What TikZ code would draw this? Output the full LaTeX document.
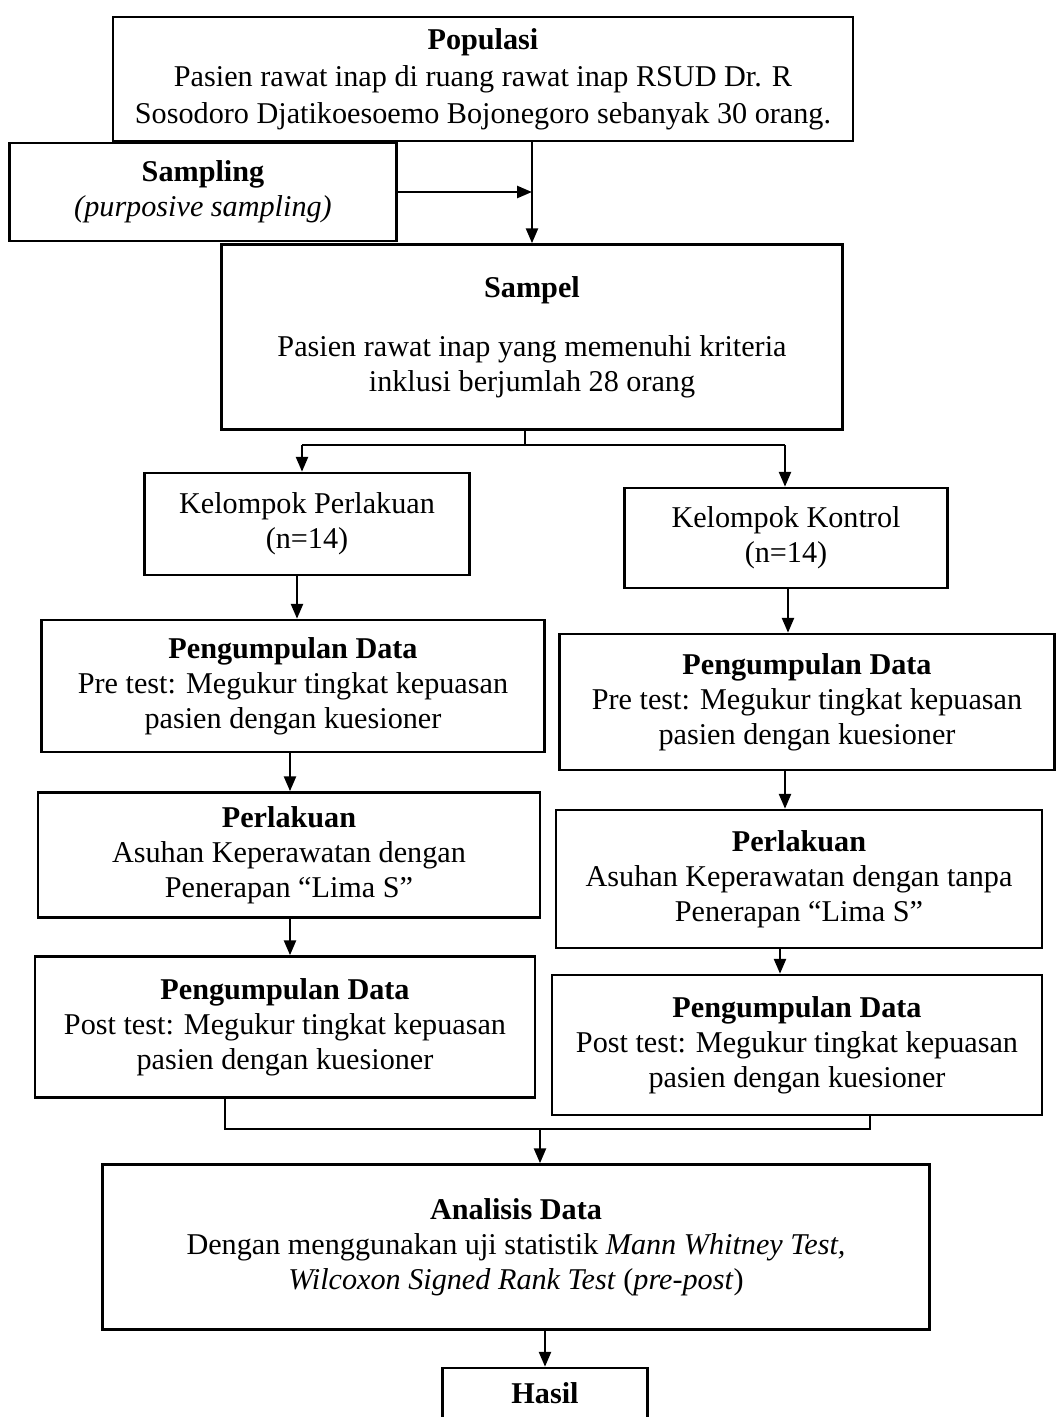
\documentclass[tikz,border=0pt]{standalone}
\usepackage{fontspec}
\setmainfont{Liberation Serif}
\usetikzlibrary{arrows.meta}
\begin{document}
\begin{tikzpicture}[x=1pt,y=-1pt,
  box/.style={draw, line width=2.5pt, align=center, inner sep=0pt,
    font=\fontsize{30.2}{35}\selectfont},
  conn/.style={line width=2.5pt},
  arr/.style={conn, -{Triangle[length=15pt,width=12pt]}}]
\useasboundingbox[fill=white] (0,0) rectangle (1058,1417);
\clip (0,0) rectangle (1058,1417);
\node[box, minimum width=740, minimum height=124, font=\fontsize{30.2}{37}\selectfont] (popu) at (483,79)
  {\textbf{Populasi}\\Pasien rawat inap di ruang rawat inap RSUD Dr. R\\Sosodoro Djatikoesoemo Bojonegoro sebanyak 30 orang.};
\node[box, minimum width=387, minimum height=98] (samp) at (203,192)
  {\textbf{Sampling}\\\textit{(purposive sampling)}};
\node[box, minimum width=621, minimum height=185] (sampel) at (532,337)
  {\textbf{Sampel}\\[24pt]Pasien rawat inap yang memenuhi kriteria\\inklusi berjumlah 28 orang};
\node[box, minimum width=325, minimum height=102] (kp) at (307,524)
  {Kelompok Perlakuan\\(n=14)};
\node[box, minimum width=323, minimum height=100] (kk) at (786,538)
  {Kelompok Kontrol\\(n=14)};
\node[box, minimum width=503, minimum height=132] (pdl) at (293,686)
  {\textbf{Pengumpulan Data}\\Pre test: Megukur tingkat kepuasan\\pasien dengan kuesioner};
\node[box, minimum width=495, minimum height=136] (pdr) at (807,702)
  {\textbf{Pengumpulan Data}\\Pre test: Megukur tingkat kepuasan\\pasien dengan kuesioner};
\node[box, minimum width=502, minimum height=125] (perll) at (289,855)
  {\textbf{Perlakuan}\\Asuhan Keperawatan dengan\\Penerapan “Lima S”};
\node[box, minimum width=486, minimum height=138] (perlr) at (799,879)
  {\textbf{Perlakuan}\\Asuhan Keperawatan dengan tanpa\\Penerapan “Lima S”};
\node[box, minimum width=500, minimum height=141] (postl) at (285,1027)
  {\textbf{Pengumpulan Data}\\Post test: Megukur tingkat kepuasan\\pasien dengan kuesioner};
\node[box, minimum width=490, minimum height=140] (postr) at (797,1045)
  {\textbf{Pengumpulan Data}\\Post test: Megukur tingkat kepuasan\\pasien dengan kuesioner};
\node[box, minimum width=827, minimum height=165] (ana) at (516,1247)
  {\textbf{Analisis Data}\\Dengan menggunakan uji statistik \textit{Mann Whitney  Test,}\\\textit{Wilcoxon Signed Rank Test} (\textit{pre-post})};
\node[box, minimum width=205, minimum height=64] (hasil) at (545,1400) {};
\node[font=\fontsize{30.2}{35}\selectfont\bfseries] (hasilt) at (545,1393) {Hasil};
% connectors
\draw[arr] (popu.south -| sampel.north) -- (sampel.north);
\draw[arr] (samp.east) -- (samp.east -| sampel.north);
\coordinate (sp) at (525,445);
\draw[conn] (sampel.south -| sp) -- (sp);
\draw[conn] (sp -| 302,0) -- (sp -| 785,0);
\draw[arr] (sp -| 302,0) -- (kp.north -| 302,0);
\draw[arr] (sp -| 785,0) -- (kk.north -| 785,0);
\draw[arr] (kp.south -| 297,0) -- (pdl.north -| 297,0);
\draw[arr] (kk.south -| 788,0) -- (pdr.north -| 788,0);
\draw[arr] (pdl.south -| 290,0) -- (perll.north -| 290,0);
\draw[arr] (pdr.south -| 785,0) -- (perlr.north -| 785,0);
\draw[arr] (perll.south -| 290,0) -- (postl.north -| 290,0);
\draw[arr] (perlr.south -| 780,0) -- (postr.north -| 780,0);
\coordinate (bl) at (225,1129);
\coordinate (br) at (870,1129);
\coordinate (bm) at (540,1129);
\draw[conn] (postl.south -| bl) -- (bl) -- (br) -- (postr.south -| br);
\draw[arr] (bm) -- (bm |- ana.north);
\draw[arr] (ana.south -| hasil.north) -- (hasil.north);
\end{tikzpicture}
\end{document}
